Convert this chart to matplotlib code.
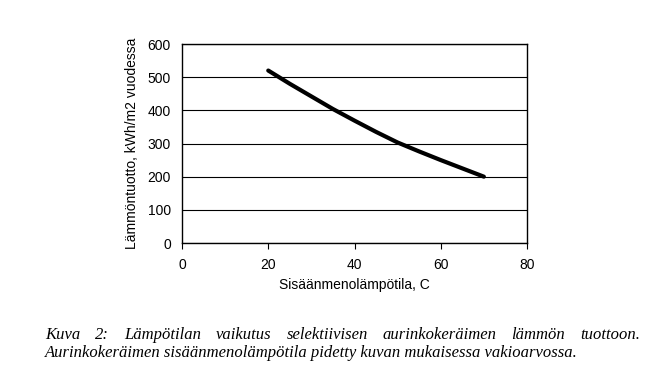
import matplotlib.pyplot as plt

temp = [20, 25, 30, 35, 40, 45, 50, 55, 60, 65, 70]
tuotto = [520, 480, 442, 404, 369, 335, 303, 276, 250, 225, 200]

caption1 = "Kuva 2: Lämpötilan vaikutus selektiivisen aurinkokeräimen lämmön tuottoon."
caption2 = "Aurinkokeräimen sisäänmenolämpötila pidetty kuvan mukaisessa vakioarvossa."

plt.rcParams['font.family'] = ['Liberation Sans', 'DejaVu Sans']
fig = plt.figure(figsize=(6.49, 3.79), dpi=100)
ax = fig.add_axes([182/649, 1-243/379, 345/649, 199/379])

ax.plot(temp, tuotto, color='black', lw=3, solid_capstyle='round')
ax.set_xlim(0, 80)
ax.set_ylim(0, 600)
ax.set_xticks([0, 20, 40, 60, 80])
ax.set_yticks(range(0, 700, 100))
ax.yaxis.grid(True, color='black', lw=0.8)
ax.set_axisbelow(True)
ax.tick_params(axis='x', length=4, width=0.8, labelsize=10, pad=7)
ax.tick_params(axis='y', length=0, labelsize=10, pad=8)
for s in ax.spines.values():
    s.set_linewidth(1)
ax.set_xlabel('Sisäänmenolämpötila, C', fontsize=10, labelpad=4)
ax.set_ylabel('Lämmöntuotto, kWh/m2 vuodessa', fontsize=10, labelpad=6)

# justified first caption line
fig.canvas.draw()
r = fig.canvas.get_renderer()
x0, x1 = 45, 640
words = caption1.split()
txts = [fig.text(0, 1-339/379, w, fontsize=12, family='Liberation Serif', style='italic', va='baseline') for w in words]
widths = [t.get_window_extent(r).width for t in txts]
gap = (x1 - x0 - sum(widths)) / (len(words) - 1)
x = x0
for t, w in zip(txts, widths):
    t.set_x(x/649)
    x += w + gap
fig.text(x0/649, 1-357/379, caption2, fontsize=12, family='Liberation Serif', style='italic', va='baseline')

fig.savefig('out.png', dpi=100)
